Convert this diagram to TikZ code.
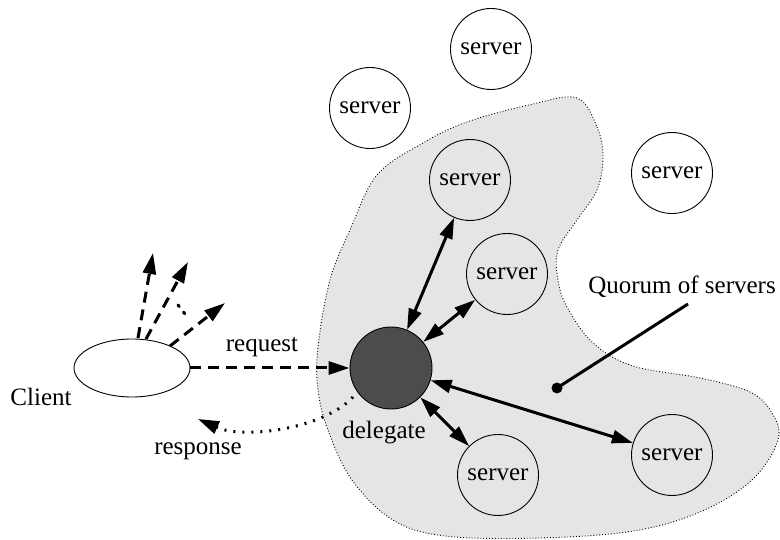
\documentclass[tikz,border=0pt]{standalone}
\usepackage{fontspec}
\setmainfont{Liberation Serif}
\usetikzlibrary{arrows.meta,shapes.geometric}
\begin{document}
\begin{tikzpicture}[x=1pt,y=-1pt,
  font=\fontsize{25}{30}\selectfont,
  srv/.style={draw,circle,line width=0.9pt,minimum size=81pt,inner sep=0pt},
  deleg/.style={draw,circle,line width=0.9pt,minimum size=82pt,fill=black!70},
  bi/.style={line width=3pt,{Triangle[length=21pt,width=13pt]}-{Triangle[length=21pt,width=13pt]}},
  dsh/.style={line width=3pt,dash pattern=on 11pt off 7pt,-{Triangle[length=21pt,width=13pt]}},
  dtt/.style={line width=3pt,dash pattern=on 2pt off 7pt},
]
\useasboundingbox (0,0) rectangle (780,540);
% quorum region
\draw[fill=black!10,dotted,line width=0.9pt] plot[smooth cycle,tension=0.6] coordinates {
(577,98) (597,127) (603,157) (597,190) (577,220) (558,250) (558,280) (567,307) (593,343)
(633,366) (700,378) (750,392) (772,413) (778,440) (752,480) (700,512) (633,531) (540,538)
(445,536) (393,520) (352,480) (328,430) (318,390) (318,347) (330,280) (350,230) (377,175)
(423,143) (467,122) (533,104)};
% servers
\node[srv] (s0) at (491,49) {server};
\node[srv] (s1) at (370,108) {server};
\node[srv] (s2) at (470,180) {server};
\node[srv] (s3) at (507,274) {server};
\node[srv] (s4) at (672,173) {server};
\node[srv] (s5) at (498,475) {server};
\node[srv] (s6) at (672,455) {server};
\node[deleg] (d) at (391,368) {};
% client
\node[draw,ellipse,line width=0.9pt,minimum width=116pt,minimum height=58pt,inner sep=0pt] (c) at (132,368) {};
\node (cl) at (41,397) {Client};
\node (rq) at (262,347) {request};
\node (rs) at (198,451) {response};
\node (dl) at (384,433) {delegate};
\node (q) at (682,287) {Quorum of servers};
% arrows
\draw[bi] (d) -- (s2);
\draw[bi] (d) -- (s3);
\draw[bi] (d) -- (s5);
\draw[bi] (d) -- (s6);
\draw[dsh] (c.east) -- (d.west);
\coordinate (f1a) at (138,338); \coordinate (f1b) at (153,253);
\coordinate (f2a) at (146,339); \coordinate (f2b) at (188,262);
\coordinate (f3a) at (170,346); \coordinate (f3b) at (225,303);
\coordinate (fda) at (178,305); \coordinate (fdb) at (188,318);
\draw[dsh] (f1a) -- (f1b);
\draw[dsh] (f2a) -- (f2b);
\draw[dsh] (f3a) -- (f3b);
\draw[dtt,line cap=round] (fda) -- (fdb);
% response
\coordinate (ra) at (353,397);
\coordinate (rb) at (198,419);
\draw[line width=3pt,dash pattern=on 2pt off 7pt,-{Triangle[length=21pt,width=13pt]}]
  (ra) .. controls (325,428) and (245,440) .. (rb);
% quorum pointer
\coordinate (qa) at (688,304);
\coordinate (qb) at (557,388);
\draw[line width=3pt] (qa) -- (qb);
\fill (qb) circle (5.5pt);
\end{tikzpicture}
\end{document}
